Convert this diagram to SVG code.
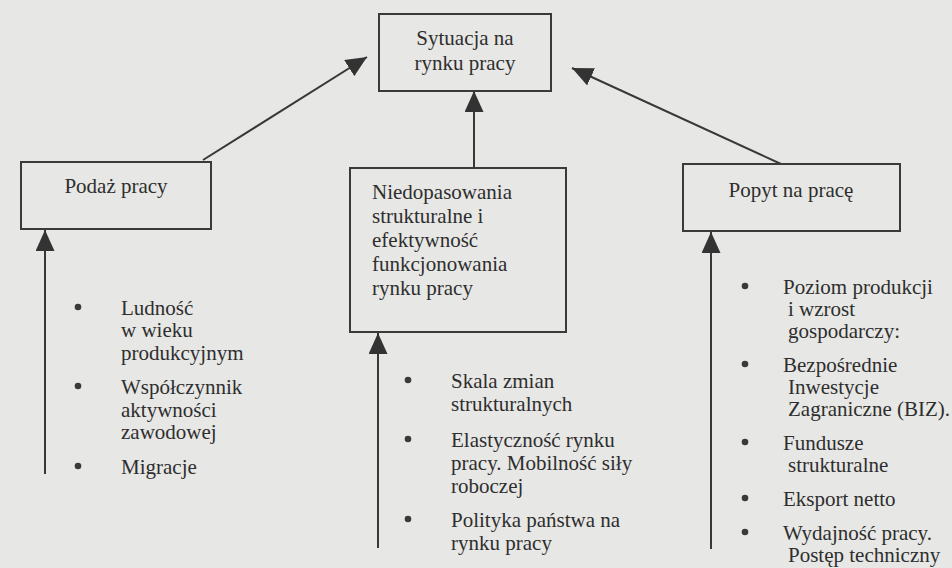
<svg xmlns="http://www.w3.org/2000/svg" width="952" height="568" viewBox="0 0 952 568">
<defs>
<marker id="ah" markerUnits="userSpaceOnUse" markerWidth="21" markerHeight="19" refX="21" refY="9.5" orient="auto">
<path d="M0,0 L21,9.5 L0,19 z" fill="#333"/>
</marker>
<style>
.box{fill:none;stroke:#3a3a3a;stroke-width:2}
.c{text-anchor:middle}
.ln{stroke:#383838;stroke-width:2;fill:none;marker-end:url(#ah)}
.b{fill:#3a3a3a}
</style>
</defs>
<rect width="952" height="568" fill="#e7e7e5"/>
<g id="connectors">
<line class="ln" x1="203" y1="160" x2="367" y2="57"/>
<line class="ln" x1="781" y1="164" x2="572" y2="68"/>
<line class="ln" x1="474" y1="168" x2="474" y2="91"/>
<line class="ln" x1="45" y1="474" x2="45" y2="230"/>
<line class="ln" x1="378" y1="548" x2="378" y2="333"/>
<line class="ln" x1="711" y1="549" x2="711" y2="232"/>
</g>
<g font-family="'Liberation Serif', 'Times New Roman', 'DejaVu Serif', serif" font-size="21" fill="#2e2e2e">
<g id="sytuacja">
<rect class="box" x="379" y="14" width="172" height="77"/>
<text class="c" x="465" y="45">Sytuacja na</text>
<text class="c" x="465" y="70">rynku pracy</text>
</g>
<g id="podaz">
<rect class="box" x="21" y="162" width="190" height="67"/>
<text class="c" x="116" y="193">Podaż pracy</text>
</g>
<g id="niedopasowania">
<rect class="box" x="350" y="168" width="216" height="164"/>
<text x="372" y="199">Niedopasowania</text>
<text x="372" y="223">strukturalne i</text>
<text x="372" y="247">efektywność</text>
<text x="372" y="271">funkcjonowania</text>
<text x="372" y="295">rynku pracy</text>
</g>
<g id="popyt">
<rect class="box" x="683" y="164" width="217" height="67"/>
<text class="c" x="791" y="197">Popyt na pracę</text>
</g>
<g id="czynniki-podazy">
<circle class="b" cx="78" cy="307" r="3.3"/>
<circle class="b" cx="78" cy="386" r="3.3"/>
<circle class="b" cx="78" cy="466" r="3.3"/>
<text x="121" y="315">Ludność</text>
<text x="121" y="337">w wieku</text>
<text x="121" y="360">produkcyjnym</text>
<text x="121" y="394">Współczynnik</text>
<text x="121" y="417">aktywności</text>
<text x="121" y="439">zawodowej</text>
<text x="121" y="474">Migracje</text>
</g>
<g id="czynniki-strukturalne">
<circle class="b" cx="408" cy="380" r="3.3"/>
<circle class="b" cx="408" cy="439" r="3.3"/>
<circle class="b" cx="408" cy="519" r="3.3"/>
<text x="451" y="388">Skala zmian</text>
<text x="451" y="411">strukturalnych</text>
<text x="451" y="447">Elastyczność rynku</text>
<text x="451" y="470">pracy. Mobilność siły</text>
<text x="451" y="493">roboczej</text>
<text x="451" y="527">Polityka państwa na</text>
<text x="451" y="550">rynku pracy</text>
</g>
<g id="czynniki-popytu">
<circle class="b" cx="745" cy="286" r="3.3"/>
<circle class="b" cx="745" cy="364" r="3.3"/>
<circle class="b" cx="745" cy="442" r="3.3"/>
<circle class="b" cx="745" cy="498" r="3.3"/>
<circle class="b" cx="745" cy="532" r="3.3"/>
<text x="783" y="294">Poziom produkcji</text>
<text x="788" y="316">i wzrost</text>
<text x="788" y="338">gospodarczy:</text>
<text x="783" y="372">Bezpośrednie</text>
<text x="788" y="394">Inwestycje</text>
<text x="788" y="416">Zagraniczne (BIZ).</text>
<text x="783" y="450">Fundusze</text>
<text x="788" y="472">strukturalne</text>
<text x="783" y="506">Eksport netto</text>
<text x="783" y="540">Wydajność pracy.</text>
<text x="788" y="562">Postęp techniczny</text>
</g>
</g>
</svg>
